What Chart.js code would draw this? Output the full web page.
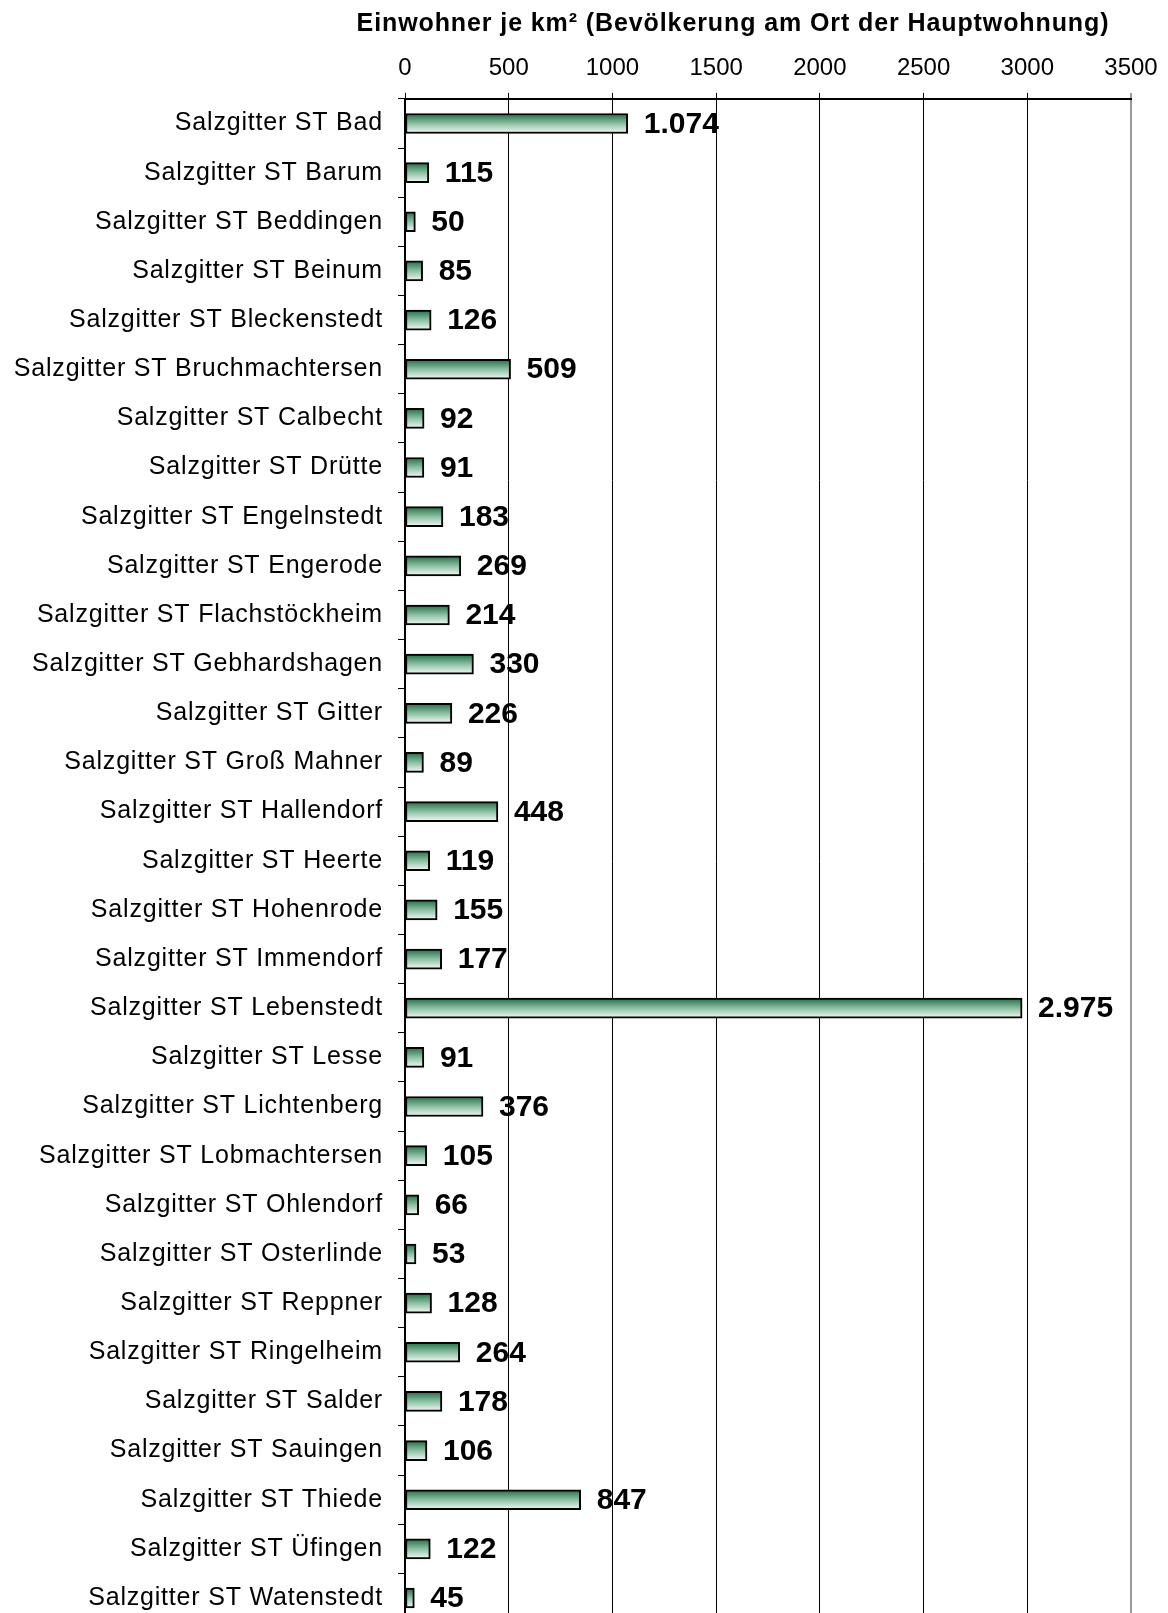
<!DOCTYPE html>
<html lang="de">
<head>
<meta charset="utf-8">
<title>Einwohner je km²</title>
<script src="https://cdn.jsdelivr.net/npm/chart.js@4/dist/chart.umd.min.js"></script>
<style>
    html, body { margin: 0; padding: 0; background: #fff; overflow: hidden; }
    canvas { display: block; }
</style>
</head>
<body>
<canvas id="densityChart" width="1168" height="1624"></canvas>
<script>
// --- DATA ---
const districts = [
    'Salzgitter ST Bad', 'Salzgitter ST Barum', 'Salzgitter ST Beddingen', 'Salzgitter ST Beinum',
    'Salzgitter ST Bleckenstedt', 'Salzgitter ST Bruchmachtersen', 'Salzgitter ST Calbecht',
    'Salzgitter ST Drütte', 'Salzgitter ST Engelnstedt', 'Salzgitter ST Engerode',
    'Salzgitter ST Flachstöckheim', 'Salzgitter ST Gebhardshagen', 'Salzgitter ST Gitter',
    'Salzgitter ST Groß Mahner', 'Salzgitter ST Hallendorf', 'Salzgitter ST Heerte',
    'Salzgitter ST Hohenrode', 'Salzgitter ST Immendorf', 'Salzgitter ST Lebenstedt',
    'Salzgitter ST Lesse', 'Salzgitter ST Lichtenberg', 'Salzgitter ST Lobmachtersen',
    'Salzgitter ST Ohlendorf', 'Salzgitter ST Osterlinde', 'Salzgitter ST Reppner',
    'Salzgitter ST Ringelheim', 'Salzgitter ST Salder', 'Salzgitter ST Sauingen',
    'Salzgitter ST Thiede', 'Salzgitter ST Üfingen', 'Salzgitter ST Watenstedt'
];
const densityValues = [
    1074, 115, 50, 85, 126, 509, 92, 91, 183, 269, 214, 330, 226, 89, 448, 119,
    155, 177, 2975, 91, 376, 105, 66, 53, 128, 264, 178, 106, 847, 122, 45
];
const axisMin = 0;
const axisMax = 3500;
const axisStep = 500;
const chartTitle = 'Einwohner je km² (Bevölkerung am Ort der Hauptwohnung)';

const FONT = "'Liberation Sans', Arial, sans-serif";

// vertical green-to-white fill for each bar
function barGradient(ctx) {
    const chart = ctx.chart;
    if (!chart.chartArea || !chart.scales.y) return '#3d8a60';
    const y = chart.scales.y.getPixelForValue(ctx.dataIndex);
    const g = chart.ctx.createLinearGradient(0, y - 10, 0, y + 10);
    g.addColorStop(0, '#236b45');
    g.addColorStop(0.5, '#8cc0a3');
    g.addColorStop(1, '#f6fbf8');
    return g;
}

// title, value labels, letter spacing of the category names
const labelPlugin = {
    id: 'valueLabels',
    beforeDraw(chart) {
        const ctx = chart.ctx;
        ctx.save();
        ctx.letterSpacing = '0.9px';
        ctx.font = 'bold 25px ' + FONT;
        ctx.fillStyle = '#000';
        ctx.textAlign = 'center';
        ctx.textBaseline = 'middle';
        ctx.fillText(chartTitle, 733, 24);
        ctx.restore();
        ctx.letterSpacing = '0px';
    },
    afterDatasetsDraw(chart) {
        const ctx = chart.ctx;
        const meta = chart.getDatasetMeta(0);
        ctx.save();
        ctx.letterSpacing = '0px';
        ctx.font = 'bold 30px ' + FONT;
        ctx.fillStyle = '#000';
        ctx.textAlign = 'left';
        ctx.textBaseline = 'middle';
        meta.data.forEach((bar, i) => {
            ctx.fillText(densityValues[i].toLocaleString('de-DE'), bar.x + 16, bar.y + 1);
        });
        ctx.restore();
        // y tick labels are drawn after this (z: 1), slightly spaced out
        ctx.letterSpacing = '0.8px';
    },
    afterDraw(chart) {
        chart.ctx.letterSpacing = '0px';
    }
};

new Chart(document.getElementById('densityChart'), {
    type: 'bar',
    data: {
        labels: districts,
        datasets: [{
            data: densityValues,
            backgroundColor: barGradient,
            borderColor: '#000',
            borderWidth: 2,
            borderSkipped: false,
            barThickness: 20
        }]
    },
    options: {
        indexAxis: 'y',
        responsive: false,
        animation: false,
        layout: { padding: { left: 0, right: 37, top: 39, bottom: 1.4 } },
        plugins: {
            legend: { display: false },
            tooltip: { enabled: false },
            title: { display: false }
        },
        scales: {
            x: {
                position: 'top',
                min: axisMin,
                max: axisMax,
                afterFit: s => { s.height = 59.9; },
                ticks: {
                    stepSize: axisStep,
                    color: '#000',
                    padding: 10,
                    font: { family: FONT, size: 24 },
                    callback: v => String(v)
                },
                grid: {
                    color: c => (c.tick && c.tick.value === axisMax) ? '#9a9a9a' : '#000',
                    lineWidth: c => (c.tick && c.tick.value === axisMax) ? 2 : 1,
                    tickLength: 6,
                    drawTicks: true
                },
                border: { color: '#000', width: 2 }
            },
            y: {
                afterFit: s => {
                    s.width = 405;
                    // labels sit in band centres, no extra room needed above/below
                    s.paddingTop = 0;
                    s.paddingBottom = 0;
                },
                ticks: {
                    z: 1,
                    autoSkip: false,
                    color: '#000',
                    padding: 15,
                    font: { family: FONT, size: 25 }
                },
                grid: {
                    drawOnChartArea: false,
                    drawTicks: true,
                    tickLength: 7,
                    color: '#000'
                },
                border: { color: '#000', width: 2 }
            }
        }
    },
    plugins: [labelPlugin]
});
</script>
</body>
</html>
